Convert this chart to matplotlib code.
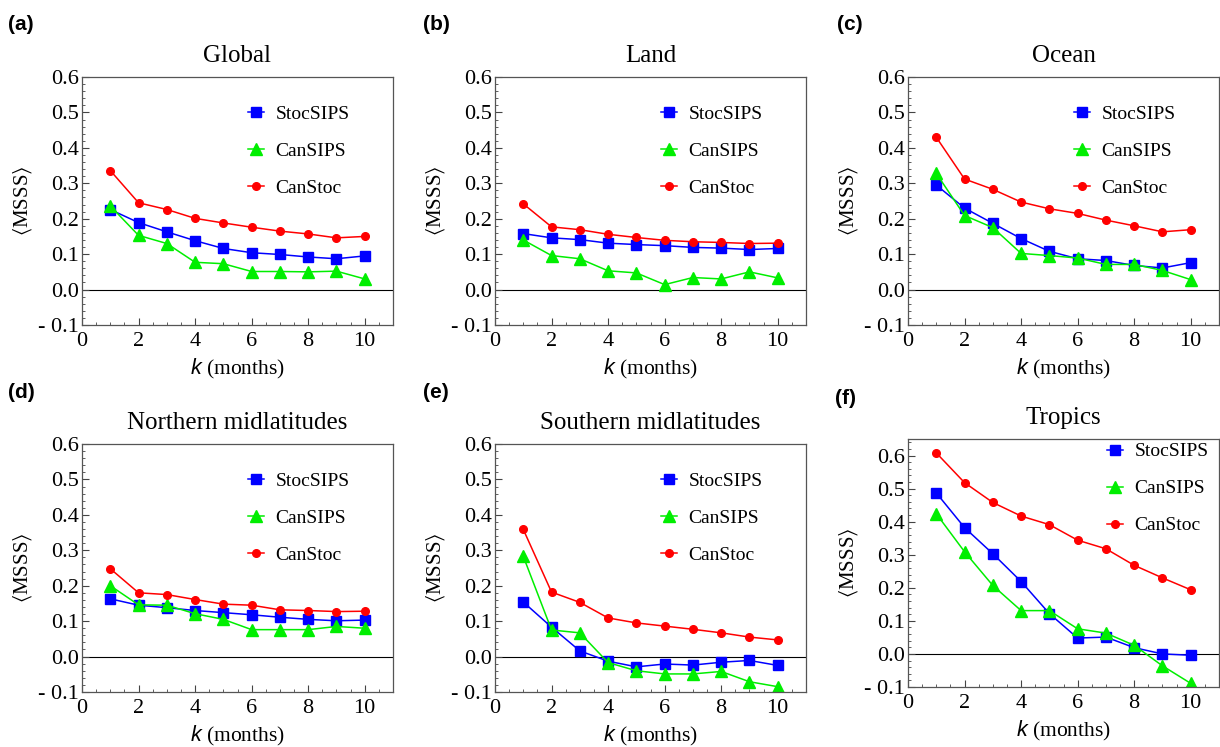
import matplotlib
matplotlib.use('Agg')
import matplotlib.pyplot as plt
from matplotlib.ticker import MultipleLocator, FuncFormatter

plt.rcParams['font.family'] = ['Liberation Serif', 'DejaVu Serif']
plt.rcParams['mathtext.fontset'] = 'custom'
plt.rcParams['mathtext.rm'] = 'Liberation Serif'
plt.rcParams['mathtext.it'] = 'Liberation Sans:italic'
plt.rcParams['mathtext.fallback'] = 'stix'

k = [1, 2, 3, 4, 5, 6, 7, 8, 9, 10]
series_names = ['StocSIPS', 'CanSIPS', 'CanStoc']
panel_letters = ['(a)', '(b)', '(c)', '(d)', '(e)', '(f)']
panel_titles = ['Global', 'Land', 'Ocean', 'Northern midlatitudes',
                'Southern midlatitudes', 'Tropics']

# MSSS values, one list per series and region
global_stoc = [0.226, 0.189, 0.163, 0.138, 0.116, 0.104, 0.099, 0.092, 0.087, 0.095]
global_cansips = [0.236, 0.153, 0.130, 0.077, 0.073, 0.051, 0.051, 0.050, 0.052, 0.030]
global_canstoc = [0.336, 0.245, 0.226, 0.201, 0.188, 0.176, 0.165, 0.157, 0.146, 0.150]

land_stoc = [0.158, 0.146, 0.141, 0.131, 0.127, 0.124, 0.119, 0.117, 0.113, 0.116]
land_cansips = [0.140, 0.096, 0.087, 0.053, 0.047, 0.014, 0.034, 0.030, 0.050, 0.033]
land_canstoc = [0.242, 0.177, 0.169, 0.156, 0.147, 0.139, 0.135, 0.133, 0.130, 0.131]

ocean_stoc = [0.295, 0.230, 0.187, 0.144, 0.108, 0.087, 0.082, 0.068, 0.061, 0.076]
ocean_cansips = [0.328, 0.209, 0.175, 0.102, 0.096, 0.089, 0.071, 0.071, 0.054, 0.028]
ocean_canstoc = [0.430, 0.312, 0.283, 0.247, 0.228, 0.215, 0.196, 0.180, 0.163, 0.169]

nmid_stoc = [0.163, 0.145, 0.138, 0.130, 0.124, 0.118, 0.111, 0.105, 0.101, 0.103]
nmid_cansips = [0.200, 0.146, 0.145, 0.121, 0.105, 0.076, 0.076, 0.076, 0.085, 0.080]
nmid_canstoc = [0.248, 0.180, 0.175, 0.161, 0.148, 0.145, 0.132, 0.130, 0.127, 0.128]

smid_stoc = [0.154, 0.083, 0.016, -0.013, -0.029, -0.021, -0.024, -0.016, -0.011, -0.025]
smid_cansips = [0.283, 0.075, 0.067, -0.017, -0.040, -0.049, -0.049, -0.042, -0.071, -0.085]
smid_canstoc = [0.359, 0.182, 0.153, 0.109, 0.095, 0.086, 0.077, 0.067, 0.055, 0.047]

trop_stoc = [0.487, 0.382, 0.303, 0.219, 0.122, 0.048, 0.051, 0.019, 0.000, -0.004]
trop_cansips = [0.424, 0.309, 0.207, 0.131, 0.131, 0.076, 0.063, 0.026, -0.036, -0.089]
trop_canstoc = [0.608, 0.518, 0.458, 0.417, 0.391, 0.344, 0.318, 0.268, 0.230, 0.194]

panel_data = [
    [global_stoc, global_cansips, global_canstoc],
    [land_stoc, land_cansips, land_canstoc],
    [ocean_stoc, ocean_cansips, ocean_canstoc],
    [nmid_stoc, nmid_cansips, nmid_canstoc],
    [smid_stoc, smid_cansips, smid_canstoc],
    [trop_stoc, trop_cansips, trop_canstoc],
]

colors = ['#0000ff', '#00ee00', '#ff0000']
markers = ['s', '^', 'o']
msizes = [7, 8, 5.5]

W, H = 1220, 747
# axes boxes in pixels: left, top
boxes = [(82, 77), (495, 77), (908, 77), (82, 444), (495, 444), (908, 439)]
ax_w, ax_h = 311, 248
letter_pos = [(8, 24), (423, 24), (837, 24), (8, 392), (423, 392), (835, 398)]
legend_anchor = [(0.535, 0.885)] * 5 + [(0.64, 0.985)]


def ytick_fmt(v, pos):
    if v < -1e-9:
        return '- %.1f' % abs(v)
    return '%.1f' % abs(v)


fig = plt.figure(figsize=(W / 100, H / 100), dpi=100)

for i in range(6):
    left, top = boxes[i]
    ax = fig.add_axes([left / W, (H - top - ax_h) / H, ax_w / W, ax_h / H])
    for j in range(3):
        ax.plot(k, panel_data[i][j], color=colors[j], marker=markers[j],
                markersize=msizes[j], lw=1.1, label=series_names[j])
    ax.axhline(0, color='black', lw=0.8, zorder=0)
    ax.set_xlim(0, 11)
    if i == 5:
        ax.set_ylim(-0.1, 0.65)
    else:
        ax.set_ylim(-0.1, 0.6)
    ax.xaxis.set_major_locator(MultipleLocator(2))
    ax.xaxis.set_minor_locator(MultipleLocator(0.5))
    ax.yaxis.set_major_locator(MultipleLocator(0.1))
    ax.yaxis.set_minor_locator(MultipleLocator(0.02))
    ax.yaxis.set_major_formatter(FuncFormatter(ytick_fmt))
    ax.tick_params(which='both', direction='in', top=False, right=False,
                   labelsize=16, color='#444444')
    ax.tick_params(axis='y', pad=2)
    ax.tick_params(axis='x', pad=5)
    ax.tick_params(which='major', length=5, width=0.8)
    ax.tick_params(which='minor', length=2.5, width=0.6)
    for s in ax.spines.values():
        s.set_color('#555555')
        s.set_linewidth(0.9)
    ax.set_title(panel_titles[i], fontsize=18, pad=11)
    ax.set_ylabel(r'$\langle\mathrm{MSSS}\rangle$', fontsize=15, labelpad=3)
    ax.set_xlabel(r'$k$ (months)', fontsize=15.5, labelpad=4)
    ax.legend(loc='upper left', bbox_to_anchor=legend_anchor[i], frameon=False,
              fontsize=14, labelspacing=1.0, handlelength=0.8, handletextpad=0.6,
              borderaxespad=0, borderpad=0)
    fig.text(letter_pos[i][0] / W, 1 - letter_pos[i][1] / H, panel_letters[i],
             fontsize=15, fontweight='bold', family='Liberation Sans',
             ha='left', va='center')

fig.savefig('out.png', dpi=100)
